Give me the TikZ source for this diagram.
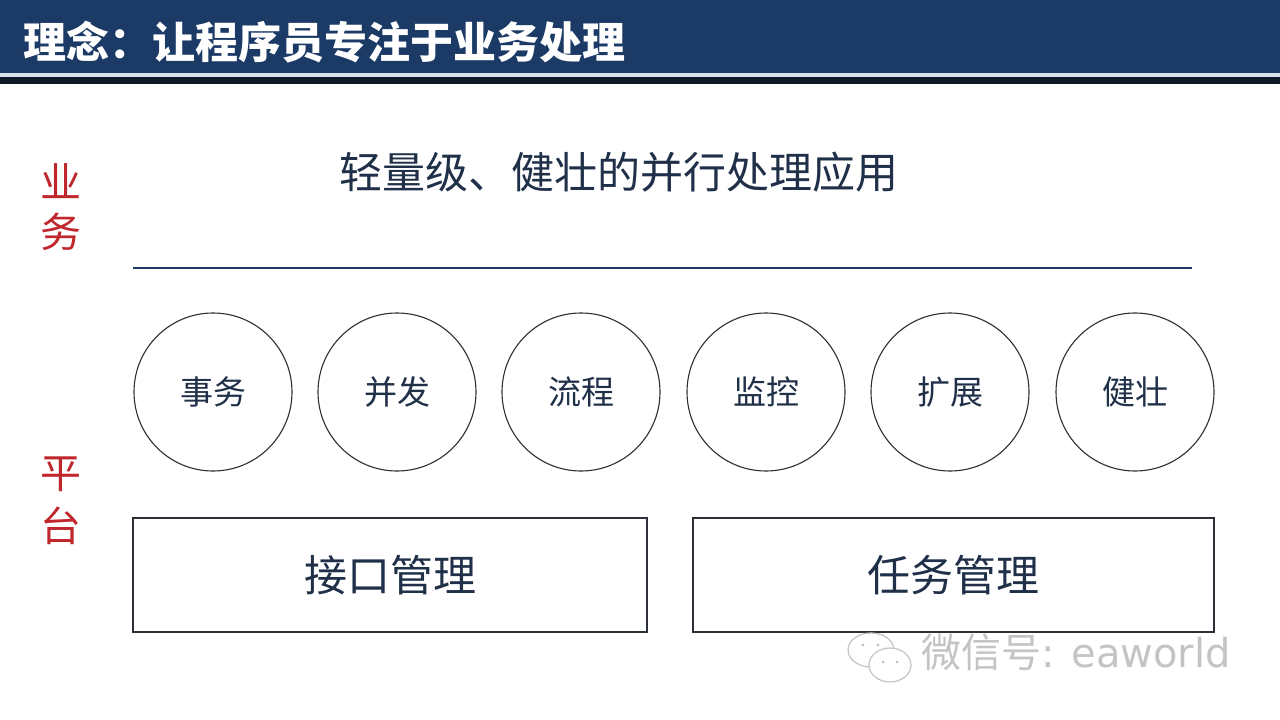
\documentclass[tikz,border=0pt]{standalone}
\usepackage{fontspec}
\setmainfont{Noto Sans CJK SC}
\newfontfamily\wmlatin{DejaVu Sans}
\definecolor{barblue}{HTML}{1C3A66}
\definecolor{palebar}{HTML}{D6E2EE}
\definecolor{darkbar}{HTML}{0E1826}
\definecolor{navytext}{HTML}{1F3048}
\definecolor{redlabel}{HTML}{C0272D}
\definecolor{strokegray}{HTML}{2B3036}
\definecolor{wmgray}{HTML}{C4C4C4}
\begin{document}
\begin{tikzpicture}[x=1pt,y=-1pt,
  circ/.style={circle, draw=strokegray, line width=1.1pt, minimum size=158pt, inner sep=0pt, text=navytext, font=\fontsize{33}{33}\selectfont},
  boxnode/.style={rectangle, draw=strokegray, line width=1.3pt, minimum height=114pt, inner sep=0pt, text=navytext, font=\fontsize{43}{43}\selectfont},
  sidelabel/.style={text=redlabel, font=\fontsize{41}{41}\selectfont, inner sep=0pt},
]
\useasboundingbox (0,0) rectangle (1280,720);
\fill[white] (0,0) rectangle (1280,720);
% header
\fill[barblue] (0,0) rectangle (1280,73);
\fill[palebar] (0,73) rectangle (1280,77);
\fill[darkbar] (0,77) rectangle (1280,84);
\node[anchor=west, text=white, inner sep=0pt, font=\bfseries\fontsize{43}{43}\selectfont] (title) at (23,42) {理念：让程序员专注于业务处理};
% side labels
\node[sidelabel] (ye) at (61,181) {业};
\node[sidelabel] (wu) at (61,232) {务};
\node[sidelabel] (ping) at (61,474) {平};
\node[sidelabel] (tai) at (61,526) {台};
% subtitle
\node[text=navytext, inner sep=0pt, font=\fontsize{43}{43}\selectfont] (sub) at (619,172) {轻量级、健壮的并行处理应用};
% separator line
\coordinate (lineL) at (133,268);
\coordinate (lineR) at (1192,268);
\draw[barblue, line width=1.3pt] (lineL) -- (lineR);
% circles
\node[circ] (c1) at (213,392) {事务};
\node[circ] (c2) at (397,392) {并发};
\node[circ] (c3) at (581,392) {流程};
\node[circ] (c4) at (766,392) {监控};
\node[circ] (c5) at (950,392) {扩展};
\node[circ] (c6) at (1135,392) {健壮};
% boxes
\node[boxnode, minimum width=514pt] (b1) at (390,575) {接口管理};
\node[boxnode, minimum width=521pt] (b2) at (953.5,575) {任务管理};
% watermark
\begin{scope}[draw=wmgray, line width=1.2pt]
  \draw[fill=white] (871,650) ellipse [x radius=23, y radius=17];
  \draw[fill=white] (890,665) ellipse [x radius=21, y radius=17];
  \fill[wmgray] (863,645) circle (1.7) (878,645) circle (1.7);
  \fill[wmgray] (883,662) circle (1.5) (897,662) circle (1.5);
\end{scope}
\node[anchor=west, text=wmgray, inner sep=0pt, font=\fontsize{40}{40}\selectfont] (wm) at (921,652) {微信号{\wmlatin : eaworld}};
\end{tikzpicture}
\end{document}
